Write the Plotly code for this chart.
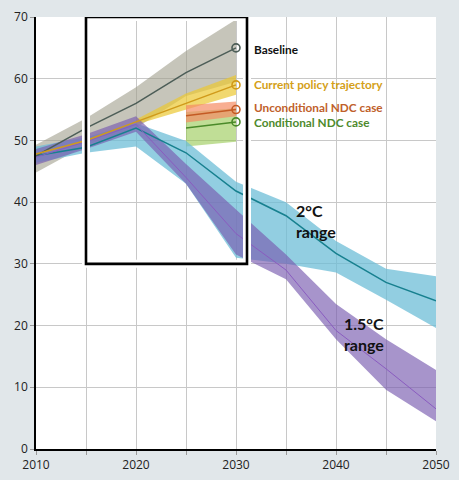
import plotly.graph_objects as go

# emissions (GtCO2e) - scenario lines and ranges
years_a = [2010, 2015, 2020, 2025, 2030]
baseline = [47.5, 52.0, 56.0, 61.0, 65.0]
baseline_lo = [44.8, 49.2, 52.0, 57.2, 59.5]
baseline_hi = [49.3, 53.6, 58.6, 64.5, 69.6]

policy = [47.8, 50.0, 53.0, 56.0, 59.0]
years_pol_band = [2020, 2025, 2030]
policy_lo = [52.6, 55.0, 57.4]
policy_hi = [53.4, 57.6, 60.6]

years_ndc = [2025, 2030]
uncond = [54.0, 55.0]
uncond_lo = [52.9, 53.9]
uncond_hi = [55.7, 56.3]
cond = [52.0, 53.0]
cond_lo = [49.0, 49.8]
cond_hi = [54.6, 55.2]

years_b = [2010, 2015, 2020, 2025, 2030, 2035, 2040, 2045, 2050]
two_deg = [47.5, 48.9, 52.0, 48.0, 41.8, 37.8, 31.7, 27.0, 24.0]
two_deg_lo = [46.4, 48.0, 49.0, 43.0, 31.0, 30.0, 28.6, 24.2, 19.6]
two_deg_hi = [49.0, 50.5, 52.8, 49.9, 43.3, 40.0, 33.7, 29.2, 28.0]

one5_deg = [47.3, 49.8, 52.6, 44.0, 34.9, 29.0, 19.2, 13.0, 6.5]
one5_deg_lo = [46.0, 48.6, 51.4, 43.0, 31.5, 27.5, 17.8, 9.6, 4.5]
one5_deg_hi = [48.6, 51.0, 53.9, 46.2, 38.8, 31.5, 23.5, 17.8, 12.8]

BG = "#e1e7ea"

fig = go.Figure()


def band(x, lo, hi, color):
    fig.add_trace(go.Scatter(x=x, y=lo, mode="lines", line=dict(width=0),
                             hoverinfo="skip", showlegend=False))
    fig.add_trace(go.Scatter(x=x, y=hi, mode="lines", line=dict(width=0),
                             fill="tonexty", fillcolor=color,
                             hoverinfo="skip", showlegend=False))


def line(x, y, color, width=1.5, end_marker=True):
    fig.add_trace(go.Scatter(x=x, y=y, mode="lines", line=dict(color=color, width=width),
                             showlegend=False))
    if end_marker:
        fig.add_trace(go.Scatter(x=[x[-1]], y=[y[-1]], mode="markers",
                                 marker=dict(symbol="circle-open", size=8, color=color,
                                             line=dict(color=color, width=1.6)),
                                 showlegend=False))


# bands
band(years_a, baseline_lo, baseline_hi, "rgba(160,158,140,0.6)")
band(years_pol_band, policy_lo, policy_hi, "rgba(235,200,50,0.7)")
band(years_ndc, cond_lo, cond_hi, "rgba(150,200,80,0.6)")
band(years_ndc, uncond_lo, uncond_hi, "rgba(245,140,100,0.7)")
band(years_b, two_deg_lo, two_deg_hi, "rgba(110,190,215,0.75)")
band(years_b, one5_deg_lo, one5_deg_hi, "rgba(120,90,175,0.65)")

# lines
line(years_b, two_deg, "#17808f", 1.5, end_marker=False)
line(years_b, one5_deg, "#8a5cc0", 1.0, end_marker=False)
line(years_a, baseline, "#4c5d57")
line(years_a, policy, "#d09a1a")
line(years_ndc, uncond, "#c45a24")
line(years_ndc, cond, "#4a8a2a")

# highlight box (white halo + black frame)
fig.add_shape(type="rect", x0=2015, x1=2031.1, y0=30, y1=70,
              line=dict(color="white", width=8), layer="above")
fig.add_shape(type="rect", x0=2015, x1=2031.1, y0=30, y1=70,
              line=dict(color="black", width=2.6), layer="above")

lbl = dict(family="Lato, 'Open Sans', sans-serif", size=11.8)
fig.add_annotation(x=2031.6, y=64.8, text="<b>Baseline</b>", showarrow=False,
                   xanchor="left", font=dict(color="#111111", **lbl))
fig.add_annotation(x=2031.6, y=59.0, text="<b>Current policy trajectory</b>", showarrow=False,
                   xanchor="left", font=dict(color="#d4a017", **lbl))
fig.add_annotation(x=2031.6, y=55.3, text="<b>Unconditional NDC case</b>", showarrow=False,
                   xanchor="left", font=dict(color="#c0602a", **lbl))
fig.add_annotation(x=2031.6, y=52.9, text="<b>Conditional NDC case</b>", showarrow=False,
                   xanchor="left", font=dict(color="#4e8a2d", **lbl))

big = dict(family="Lato, 'Open Sans', sans-serif", size=16, color="#111111")
fig.add_annotation(x=2035.8, y=37.0, text="<b>2°C<br>range</b>", showarrow=False,
                   xanchor="left", align="left", font=big)
fig.add_annotation(x=2040.6, y=18.6, text="<b>1.5°C<br>range</b>", showarrow=False,
                   xanchor="left", align="left", font=big)

tick_years = list(range(2010, 2051, 5))
tick_text = [str(t) if t % 10 == 0 else "" for t in tick_years]

fig.update_xaxes(range=[2010, 2050], tickvals=tick_years, ticktext=tick_text,
                 showgrid=True, gridcolor="#c8c8c8", gridwidth=1,
                 showline=True, linecolor="black", linewidth=1.5,
                 ticks="outside", ticklen=4, tickcolor="#999999",
                 zeroline=False, automargin=False,
                 tickfont=dict(size=12, color="#222222"))
fig.update_yaxes(range=[0, 70], dtick=10,
                 showgrid=True, gridcolor="#c8c8c8", gridwidth=1,
                 showline=True, linecolor="black", linewidth=1.5,
                 ticks="outside", ticklen=4, tickcolor="#999999",
                 zeroline=False, automargin=False,
                 tickfont=dict(size=12, color="#222222"))

# page body keeps its default 8px margin, so the figure is sized to fit
fig.update_layout(
    width=451, height=472,
    margin=dict(l=28, r=23, t=9, b=31),
    paper_bgcolor=BG,
    plot_bgcolor="white",
    font=dict(family="'Open Sans', sans-serif"),
    showlegend=False,
)

fig.write_html("out.html",
               post_script="document.body.style.background='%s';" % BG)
